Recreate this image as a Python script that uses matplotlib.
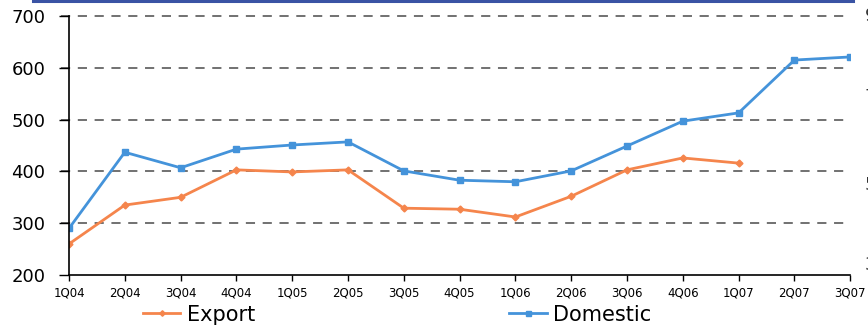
import matplotlib
matplotlib.use("Agg")
import matplotlib.pyplot as plt
from matplotlib.lines import Line2D

plt.rcParams["font.family"] = ["DejaVu Sans"]

# quarterly volumes
quarters = ["1Q04", "2Q04", "3Q04", "4Q04", "1Q05", "2Q05", "3Q05", "4Q05",
            "1Q06", "2Q06", "3Q06", "4Q06", "1Q07", "2Q07", "3Q07"]
export = [260, 335, 350, 403, 399, 403, 329, 327, 312, 352, 403, 426, 416]
domestic = [290, 437, 407, 443, 451, 457, 401, 383, 380, 401, 449, 497, 513, 615, 621]

export_color = "#F5854C"
domestic_color = "#4493DA"

fig = plt.figure(figsize=(8.68, 3.27), dpi=100)
ax = fig.add_axes([0.0795, 0.159, 0.9, 0.792])

x = list(range(len(quarters)))
ax.plot(x[:len(export)], export, color=export_color, lw=2.0,
        marker="D", markersize=3.5, label="Export")
ax.plot(x, domestic, color=domestic_color, lw=2.0,
        marker="s", markersize=4.5, label="Domestic")

ax.set_xlim(0, len(quarters) - 1)
ax.set_ylim(200, 700)
ax.set_yticks(range(200, 701, 100))
ax.set_xticks(x)
ax.set_xticklabels(quarters, fontsize=8.5)
ax.tick_params(axis="y", labelsize=13, length=7, width=1, pad=10)
ax.tick_params(axis="x", length=4, width=1, pad=4)

for v in range(300, 701, 100):
    ax.axhline(v, color="#4a4a4a", lw=1.1, ls=(0, (6, 5)), zorder=0,
               xmin=-0.01, clip_on=False)

for side in ["top", "right"]:
    ax.spines[side].set_visible(False)
ax.spines["left"].set_linewidth(1.2)
ax.spines["bottom"].set_linewidth(1.2)

# right-hand scale, mostly cut off at the figure edge
for yy, lab in [(0.951, "9"), (0.703, "7"), (0.434, "5"), (0.19, "3")]:
    fig.text(0.996, yy, lab, fontsize=13, va="center", ha="left", color="#333333")

# header rule
fig.add_artist(Line2D([0.038, 0.983], [0.997, 0.997], color="#3A53A4", lw=2.2))

fig.legend(loc="lower left", bbox_to_anchor=(0.143, -0.05), ncol=2, frameon=False,
           fontsize=15, handlelength=1.8, handletextpad=0.3, columnspacing=12.2,
           markerscale=0.8)

fig.savefig("out.png", dpi=100)
